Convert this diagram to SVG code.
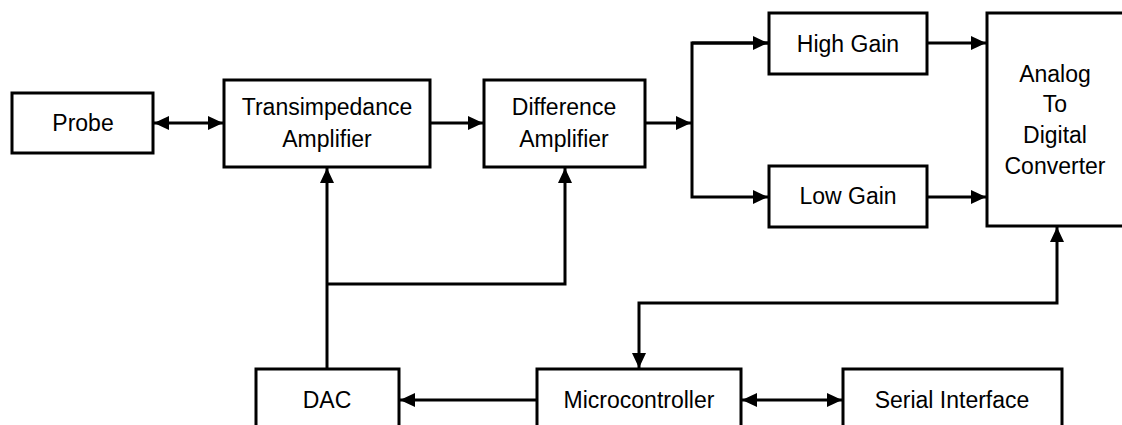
<svg xmlns="http://www.w3.org/2000/svg" width="1122" height="425" viewBox="0 0 1122 425">
<defs>
<style>
.box{fill:#fff;stroke:#000;stroke-width:3}
.lbl{font-family:"Liberation Sans",Arial,sans-serif;font-size:23px;fill:#000;text-anchor:middle}
.ln{fill:none;stroke:#000;stroke-width:3}
.arr{marker-end:url(#ah)}
.bi{marker-start:url(#ah);marker-end:url(#ah)}
</style>
<marker id="ah" markerUnits="userSpaceOnUse" markerWidth="16" markerHeight="14" refX="15" refY="7" orient="auto-start-reverse">
<path d="M0,0 L15,7 L0,14 z" fill="#000"/>
</marker>
</defs>
<rect width="1122" height="425" fill="#fff"/>
<g id="connectors">
<line class="ln bi" x1="154" y1="123" x2="223" y2="123"/>
<line class="ln arr" x1="431" y1="123" x2="483" y2="123"/>
<line class="ln arr" x1="646" y1="123" x2="691" y2="123"/>
<polyline class="ln arr" points="768,43 692,43 692,197 768,197"/>
<line class="ln arr" x1="692" y1="43" x2="768" y2="43"/>
<line class="ln arr" x1="928" y1="43" x2="986" y2="43"/>
<line class="ln arr" x1="928" y1="197" x2="986" y2="197"/>
<line class="ln arr" x1="327" y1="369" x2="327" y2="168"/>
<polyline class="ln arr" points="327,284 565,284 565,168"/>
<polyline class="ln bi" points="1057,227 1057,303 639,303 639,368"/>
<line class="ln arr" x1="537" y1="400" x2="400" y2="400"/>
<line class="ln bi" x1="742" y1="400" x2="842" y2="400"/>
</g>
<g id="probe"><rect class="box" x="12" y="93" width="141" height="60"/><text class="lbl" x="83" y="131">Probe</text></g>
<g id="tia"><rect class="box" x="224" y="80" width="206" height="87"/><text class="lbl" x="327" y="115">Transimpedance</text><text class="lbl" x="327" y="147">Amplifier</text></g>
<g id="diffamp"><rect class="box" x="484" y="80" width="161" height="87"/><text class="lbl" x="564" y="115">Difference</text><text class="lbl" x="564" y="147">Amplifier</text></g>
<g id="highgain"><rect class="box" x="769" y="13" width="158" height="61"/><text class="lbl" x="848" y="52">High Gain</text></g>
<g id="lowgain"><rect class="box" x="769" y="166" width="158" height="61"/><text class="lbl" x="848" y="204">Low Gain</text></g>
<g id="adc"><rect class="box" x="987" y="13" width="140" height="213"/><text class="lbl" x="1055" y="82">Analog</text><text class="lbl" x="1055" y="112">To</text><text class="lbl" x="1055" y="143">Digital</text><text class="lbl" x="1055" y="174">Converter</text></g>
<g id="dac"><rect class="box" x="256" y="369" width="143" height="70"/><text class="lbl" x="327" y="408">DAC</text></g>
<g id="micro"><rect class="box" x="537" y="369" width="204" height="70"/><text class="lbl" x="639" y="408">Microcontroller</text></g>
<g id="serial"><rect class="box" x="843" y="369" width="219" height="70"/><text class="lbl" x="952" y="408">Serial Interface</text></g>
</svg>
